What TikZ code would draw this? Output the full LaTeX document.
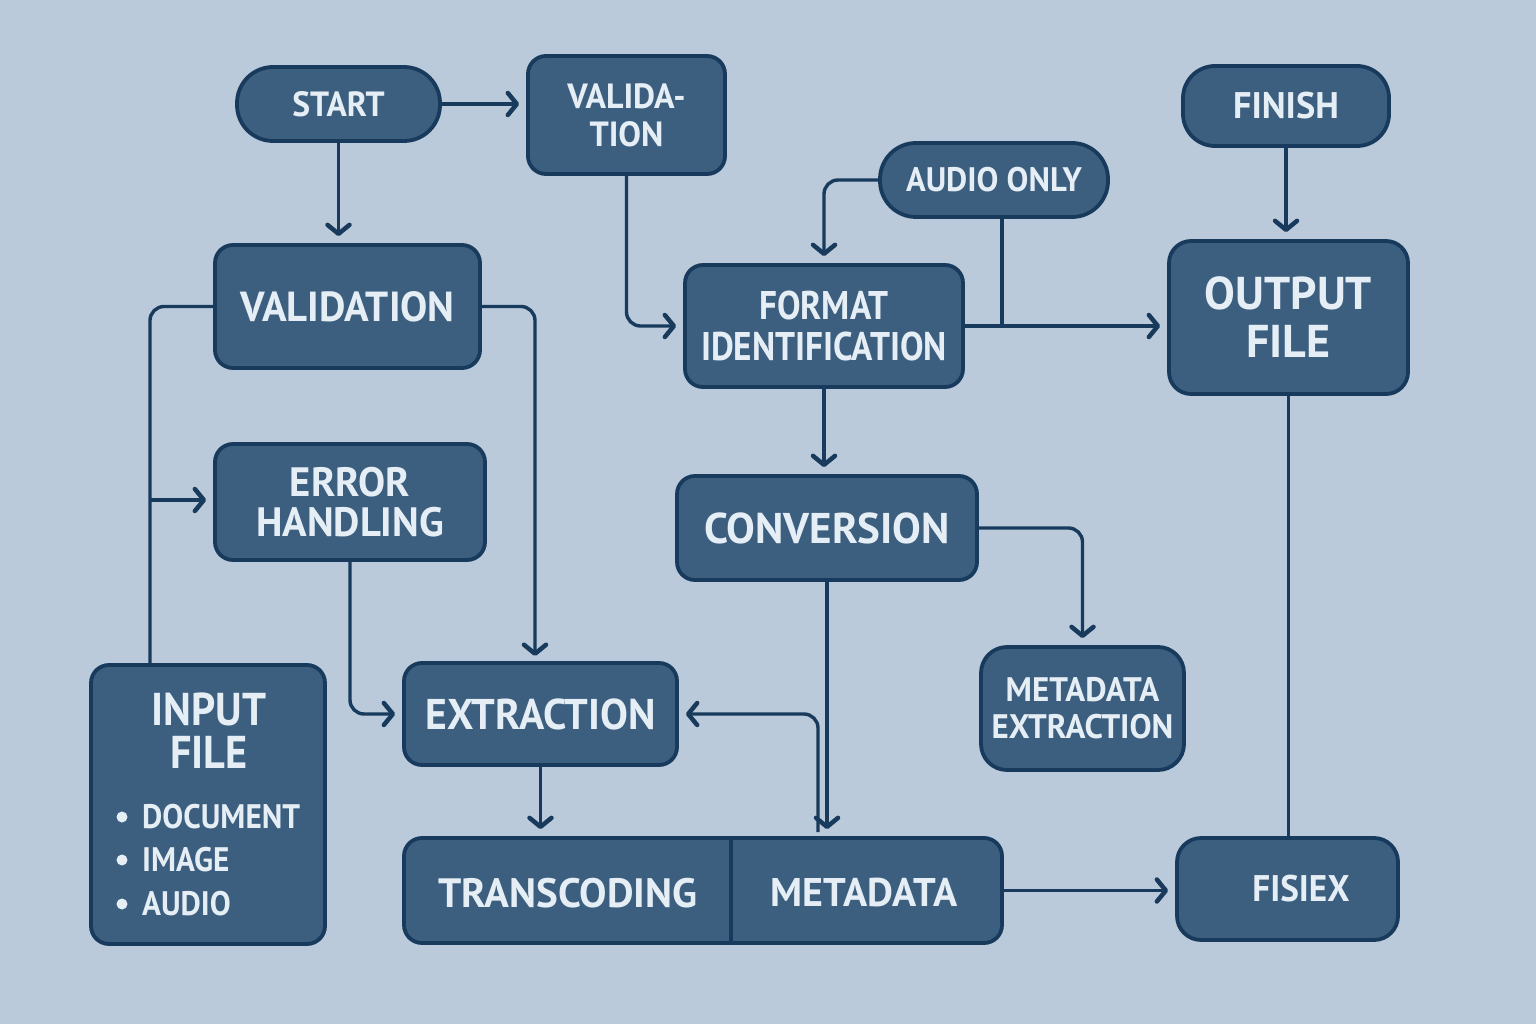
\documentclass[tikz,border=0pt]{standalone}
\usepackage{fontspec}
\setmainfont{PT Sans}
\usetikzlibrary{arrows.meta,calc}
\definecolor{bg}{HTML}{BACADA}
\definecolor{boxfill}{HTML}{3C5F80}
\definecolor{boxline}{HTML}{183A5C}
\definecolor{txt}{HTML}{E6EEF5}
\newcommand\fsz[2]{\fontsize{#1}{#2}\selectfont\bfseries}
\newcommand\narrow[1]{\addfontfeatures{FakeStretch=#1}}
\begin{document}
\begin{tikzpicture}[x=1pt,y=-1pt,
  box/.style={draw=boxline, line width=3.8pt, fill=boxfill, rounded corners=18pt, text=txt, align=center, inner sep=0pt},
  pill/.style={box, rounded corners=36pt},
  lbl/.style={text=txt, inner sep=0pt, align=center},
  dot/.style={circle, fill=txt, minimum size=11pt, inner sep=0pt},
  conn/.style={draw=boxline, line width=3.4pt, rounded corners=14pt},
  arr/.style={conn, -{Straight Barb[length=9pt,width=22pt,line width=4.5pt,round]}, shorten >=7pt}]
\fill[bg] (0,0) rectangle (1536,1024);
\useasboundingbox (0,0) rectangle (1536,1024);

% nodes
\node[pill, minimum width=203pt, minimum height=74pt, font=\fsz{35}{40}\narrow{0.96}] (start) at (338.5,104) {START};
\node[box, minimum width=197pt, minimum height=118pt, font=\fsz{35}{38}\narrow{0.97}] (valida) at (626.5,115) {VALIDA-\\TION};
\node[box, minimum width=265pt, minimum height=123pt, font=\fsz{42}{46}\narrow{0.97}] (validation) at (347.5,306.5) {VALIDATION};
\node[box, minimum width=270pt, minimum height=116pt, font=\fsz{41}{40}\narrow{0.99}] (err) at (350,502) {ERROR\\HANDLING};
\node[box, minimum width=234pt, minimum height=279pt] (input) at (208,804.5) {};
\node[lbl, font=\fsz{46}{43}\narrow{0.92}] (inputttl) at (209,731) {INPUT\\FILE};
\node[dot] (b1) at (122,817) {};
\node[dot] (b2) at (122,860) {};
\node[dot] (b3) at (122,904) {};
\node[lbl, anchor=west, font=\fsz{34}{40}\narrow{0.92}] (t1) at (142,817) {DOCUMENT};
\node[lbl, anchor=west, font=\fsz{34}{40}\narrow{0.92}] (t2) at (142,860) {IMAGE};
\node[lbl, anchor=west, font=\fsz{34}{40}\narrow{0.92}] (t3) at (142,904) {AUDIO};
\node[box, minimum width=273pt, minimum height=102pt, font=\fsz{43}{48}\narrow{0.97}] (extraction) at (540.5,714) {EXTRACTION};
\node[box, minimum width=598pt, minimum height=105pt] (tmbox) at (703,890.5) {};
\node[lbl, font=\fsz{41}{46}] (trans) at (568,893) {TRANSCODING};
\node[lbl, font=\fsz{40}{46}] (meta) at (864,893) {METADATA};
\draw[boxline, line width=3.8pt] ($(tmbox.north west)+(329,0)$) -- ($(tmbox.south west)+(329,0)$);
\node[box, minimum width=278pt, minimum height=122pt, font=\fsz{40}{41}\narrow{0.88}] (fmt) at (824,326) {FORMAT\\IDENTIFICATION};
\node[pill, minimum width=228pt, minimum height=74pt, font=\fsz{34}{40}\narrow{0.96}] (audio) at (994,180) {AUDIO ONLY};
\node[box, minimum width=300pt, minimum height=104pt, font=\fsz{43}{48}] (conv) at (827,528) {CONVERSION};
\node[box, minimum width=203pt, minimum height=123pt, rounded corners=26pt, font=\fsz{34}{37}\narrow{0.97}] (metax) at (1082.5,708.5) {METADATA\\EXTRACTION};
\node[box, minimum width=206pt, minimum height=80pt, rounded corners=32pt, font=\fsz{37}{40}\narrow{0.98}] (finish) at (1286,106) {FINISH};
\node[box, minimum width=239pt, minimum height=153pt, rounded corners=22pt, font=\fsz{46}{48}] (output) at (1288.5,317.5) {OUTPUT\\FILE};
\node[box, minimum width=221pt, minimum height=102pt, rounded corners=24pt] (fisiex) at (1287.5,889) {};
\node[lbl, font=\fsz{37}{44}\narrow{0.95}] (fisiextxt) at (1301,889) {FISIEX};

% helper coordinates
\coordinate (inTop) at (150,665);
\coordinate (branch) at (150,500);
\coordinate (extIn) at (535,663);
\coordinate (mj) at (818,832);
\coordinate (aj) at (1002,217);

% connectors
\draw[arr] (start.east) -- (start.east -| valida.west);
\draw[arr] (start.south) -- (start.south |- validation.north);
\draw[arr] (valida.south) |- (fmt.west);
\draw[conn] (validation.west) -| (inTop);
\draw[arr] (branch) -- (branch -| err.west);
\draw[arr] (validation.east) -| (extIn);
\draw[arr] (err.south) |- (extraction.west);
\draw[arr] (fmt.south) -- (fmt.south |- conv.north);
\draw[arr] (audio.west) -| (fmt.north);
\draw[conn] (aj) -- (aj |- fmt.east);
\draw[arr] (fmt.east) -- (fmt.east -| output.west);
\draw[arr] (finish.south) -- (finish.south |- output.north);
\draw[conn] (output.south) -- (output.south |- fisiex.north);
\draw[arr] (conv.east) -| (metax.north);
\draw[arr] (conv.south) -- (conv.south |- tmbox.north);
\draw[arr] (mj) |- (extraction.east);
\draw[arr] (tmbox.east) -- (tmbox.east -| fisiex.west);
\draw[arr] (extraction.south) -- (extraction.south |- tmbox.north);
\end{tikzpicture}
\end{document}
